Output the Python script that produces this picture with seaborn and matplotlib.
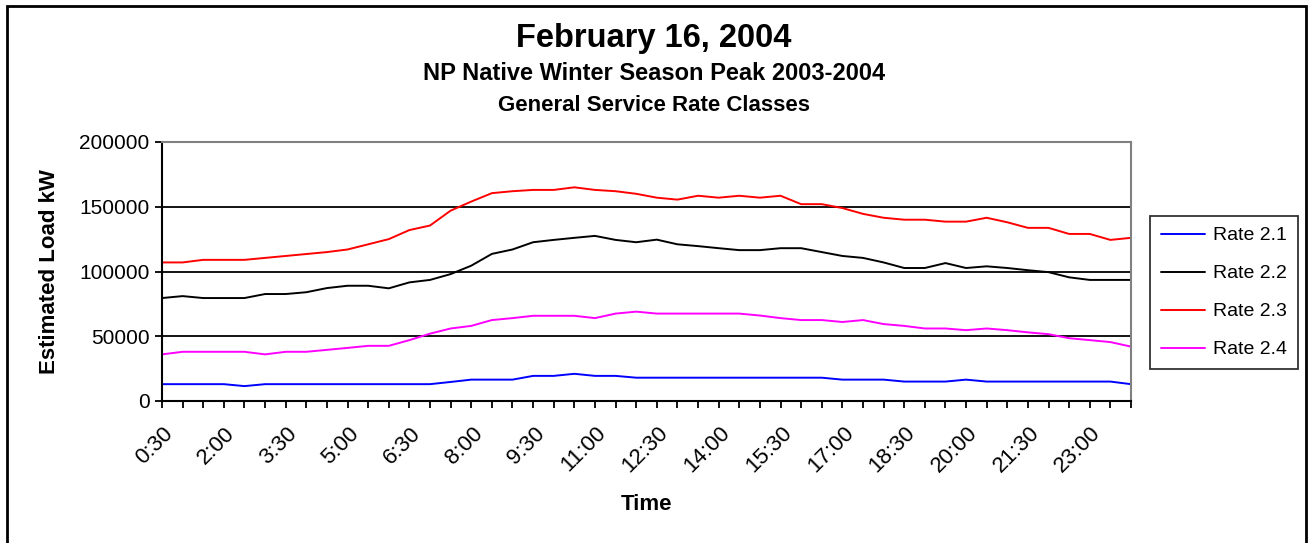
import numpy as np
import pandas as pd
import matplotlib.pyplot as plt
import matplotlib.transforms as mtrans
import seaborn as sns

# half-hour time labels 0:30 .. 24:00
times = ['%d:%02d' % divmod(m, 60) for m in range(30, 24 * 60 + 1, 30)]

rate_21 = [13000, 13000, 13000, 13000, 11500, 13000, 13000, 13000, 13000, 13000,
           13000, 13000, 13000, 13000, 14700, 16500, 16500, 16500, 19400, 19400,
           21000, 19400, 19400, 18000, 18000, 18000, 18000, 18000, 18000, 18000,
           18000, 18000, 18000, 16500, 16500, 16500, 15000, 15000, 15000, 16500,
           15000, 15000, 15000, 15000, 15000, 15000, 15000, 13000]
rate_22 = [79500, 81000, 79500, 79500, 79500, 82600, 82600, 84000, 87200, 89000,
           89000, 87000, 91600, 93500, 98000, 104500, 113600, 117000, 122600, 124400,
           126000, 127500, 124400, 122600, 124600, 121000, 119600, 118000, 116500, 116500,
           118000, 118000, 115000, 112000, 110500, 107000, 102700, 102700, 106500, 102700,
           104000, 102700, 101000, 99500, 95500, 93500, 93500, 93500]
rate_23 = [107000, 107000, 109000, 109000, 109000, 110500, 112000, 113500, 115000, 117000,
           121000, 125000, 132000, 135500, 147000, 154000, 160500, 162000, 163000, 163000,
           165000, 163000, 162000, 160000, 157000, 155500, 158500, 157000, 158500, 157000,
           158500, 152000, 152000, 149000, 144500, 141500, 140000, 140000, 138500, 138500,
           141500, 138000, 133700, 133700, 129000, 129000, 124400, 126000]
rate_24 = [36000, 38000, 38000, 38000, 38000, 36000, 38000, 38000, 39500, 41000,
           42600, 42600, 47000, 52000, 56000, 58000, 62500, 64000, 65800, 65800,
           65800, 64000, 67500, 69000, 67500, 67500, 67500, 67500, 67500, 66000,
           64000, 62500, 62500, 61000, 62500, 59400, 58000, 56000, 56000, 54700,
           56000, 54700, 53000, 51600, 48500, 47000, 45500, 42000]

series = {'Rate 2.1': rate_21, 'Rate 2.2': rate_22, 'Rate 2.3': rate_23, 'Rate 2.4': rate_24}
colors = {'Rate 2.1': '#0000ff', 'Rate 2.2': '#000000', 'Rate 2.3': '#ff0000', 'Rate 2.4': '#ff00ff'}

rows = []
for name, vals in series.items():
    for i, v in enumerate(vals):
        rows.append({'idx': i, 'load': v, 'rate': name})
df = pd.DataFrame(rows)

sns.set_style('white')
plt.rcParams['font.family'] = ['Liberation Sans', 'DejaVu Sans']
plt.rcParams['text.color'] = 'black'
plt.rcParams['axes.labelcolor'] = 'black'
plt.rcParams['xtick.color'] = 'black'
plt.rcParams['ytick.color'] = 'black'

W, H = 1308, 543
fig = plt.figure(figsize=(W / 100, H / 100), dpi=100)
ax = fig.add_axes([162 / W, 1 - 401 / H, 969 / W, 259 / H])

sns.lineplot(data=df, x='idx', y='load', hue='rate', palette=colors,
             linewidth=1.4, ax=ax)

ax.set_xlim(0, len(times) - 1)
ax.set_ylim(0, 200000)
ax.set_yticks([0, 50000, 100000, 150000, 200000])
ax.set_yticklabels(['0', '50000', '100000', '150000', '200000'], fontsize=15)
ax.set_xticks(range(len(times)))
ax.set_xticklabels([t if i % 3 == 0 else '' for i, t in enumerate(times)],
                   rotation=45, ha='right', va='center', rotation_mode='anchor',
                   fontsize=16)
ax.tick_params(axis='x', direction='out', length=5, width=1.3, pad=16)
ax.tick_params(axis='y', direction='out', length=5, width=1.3, pad=4)
ax.tick_params(bottom=True, left=True)
off = mtrans.ScaledTranslation(0.08, 0, fig.dpi_scale_trans)
for lab in ax.get_xticklabels():
    lab.set_transform(lab.get_transform() + off)

ax.grid(axis='y', color='black', linewidth=1.3)
ax.set_axisbelow(True)

for s in ['top', 'right']:
    ax.spines[s].set_color('#808080')
    ax.spines[s].set_linewidth(1.5)
for s in ['left', 'bottom']:
    ax.spines[s].set_color('black')
    ax.spines[s].set_linewidth(1.5)

ax.set_xlabel('Time', fontsize=16, fontweight='bold', labelpad=12)
ax.set_ylabel('Estimated Load kW', fontsize=16, fontweight='bold', labelpad=14)

leg = ax.legend(loc='upper left', bbox_to_anchor=(1150 / W, 1 - 216 / H),
                bbox_transform=fig.transFigure, frameon=True, fancybox=False,
                edgecolor='black', fontsize=14, handlelength=2.3, handletextpad=0.4,
                borderpad=0.55, labelspacing=1.05, borderaxespad=0)
leg.get_frame().set_linewidth(1.3)

fig.text(0.5, 1 - 38 / H, 'February 16, 2004', ha='center', va='center',
         fontsize=23.5, fontweight='bold')
fig.text(0.5, 1 - 74 / H, 'NP Native Winter Season Peak 2003-2004', ha='center',
         va='center', fontsize=17, fontweight='bold')
fig.text(0.5, 1 - 105 / H, 'General Service Rate Classes', ha='center',
         va='center', fontsize=16, fontweight='bold')

# outer border around the whole chart (bottom edge runs off the image)
fig.patches.append(plt.Rectangle((7 / W, -0.02), 1299 / W, 1.02 - 6 / H,
                                 transform=fig.transFigure, fill=False,
                                 edgecolor='black', linewidth=2))

fig.savefig('out.png', dpi=100)
